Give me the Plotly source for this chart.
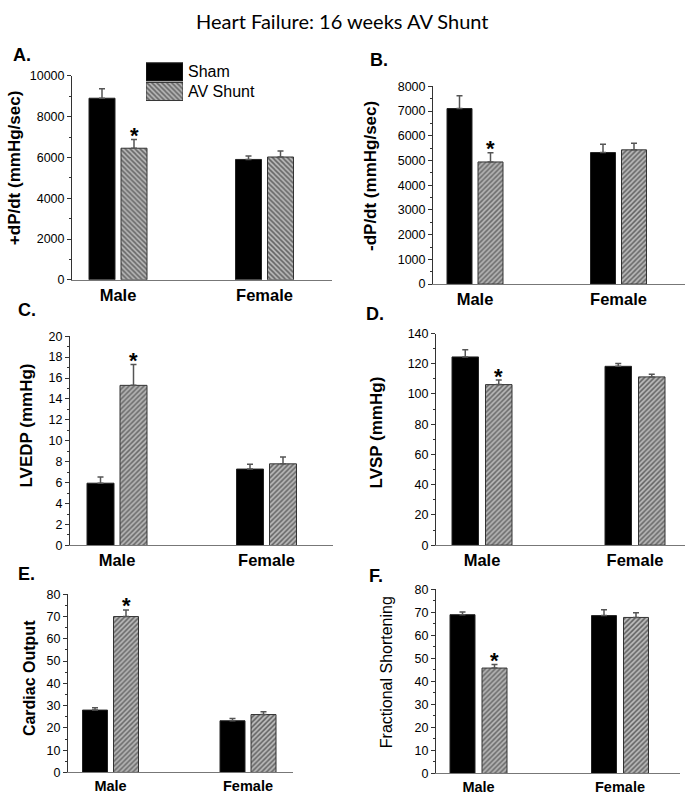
import plotly.graph_objects as go

W, H = 685, 804

categories = ["Male", "Female"]
groups = ["Sham", "AV Shunt"]

# A. +dP/dt
plus_dpdt_sham = [8900, 5900]
plus_dpdt_sham_err = [460, 170]
plus_dpdt_shunt = [6450, 6020]
plus_dpdt_shunt_err = [430, 290]
# B. -dP/dt
minus_dpdt_sham = [7100, 5320]
minus_dpdt_sham_err = [520, 340]
minus_dpdt_shunt = [4940, 5430]
minus_dpdt_shunt_err = [370, 270]
# C. LVEDP
lvedp_sham = [5.95, 7.3]
lvedp_sham_err = [0.6, 0.45]
lvedp_shunt = [15.3, 7.8]
lvedp_shunt_err = [2.0, 0.65]
# D. LVSP
lvsp_sham = [124.5, 118.3]
lvsp_sham_err = [4.7, 1.8]
lvsp_shunt = [106.2, 111.3]
lvsp_shunt_err = [3.0, 1.7]
# E. cardiac output
co_sham = [28.0, 23.2]
co_sham_err = [1.0, 1.0]
co_shunt = [70.0, 26.0]
co_shunt_err = [3.0, 1.2]
# F. fractional shortening
fs_sham = [69.0, 68.6]
fs_sham_err = [1.2, 2.5]
fs_shunt = [45.8, 67.8]
fs_shunt_err = [1.6, 2.0]

# significant vs sham (per category)
signif = [True, False]

panels = [
    dict(letter="A.", ytitle="+dP/dt (mmHg/sec)", sham=plus_dpdt_sham, sham_err=plus_dpdt_sham_err,
         shunt=plus_dpdt_shunt, shunt_err=plus_dpdt_shunt_err, ymax=10000, dtick=2000, minor=1000,
         hatch="\\", cat_size=16.5, bold=True, box=(72, 332, 70, 277.7), m=118, f=264.5, bw=26, gap=6,
         lpos=(11, 49), tpos=(14, 164), tsize=17),
    dict(letter="B.", ytitle="-dP/dt (mmHg/sec)", sham=minus_dpdt_sham, sham_err=minus_dpdt_sham_err,
         shunt=minus_dpdt_shunt, shunt_err=minus_dpdt_shunt_err, ymax=8000, dtick=1000, minor=500,
         hatch="/", cat_size=16.5, bold=True, box=(433, 685, 80.7, 282), m=475, f=618.5, bw=25, gap=6,
         lpos=(368, 54), tpos=(370, 172), tsize=17),
    dict(letter="C.", ytitle="LVEDP (mmHg)", sham=lvedp_sham, sham_err=lvedp_sham_err,
         shunt=lvedp_shunt, shunt_err=lvedp_shunt_err, ymax=20, dtick=2, minor=1,
         hatch="/", cat_size=16.5, bold=True, box=(70, 333, 335, 548), m=117, f=266.5, bw=27, gap=6,
         lpos=(16, 308), tpos=(27, 426), tsize=17),
    dict(letter="D.", ytitle="LVSP (mmHg)", sham=lvsp_sham, sham_err=lvsp_sham_err,
         shunt=lvsp_shunt, shunt_err=lvsp_shunt_err, ymax=140, dtick=20, minor=10,
         hatch="/", cat_size=16.5, bold=True, box=(436, 685, 332.3, 547.7), m=482, f=635, bw=26.5, gap=7,
         lpos=(364, 312), tpos=(376, 433), tsize=17),
    dict(letter="E.", ytitle="Cardiac Output", sham=co_sham, sham_err=co_sham_err,
         shunt=co_shunt, shunt_err=co_shunt_err, ymax=80, dtick=10, minor=5,
         hatch="/", cat_size=14.5, bold=True, box=(68, 293, 597.7, 779), m=110.5, f=248, bw=25, gap=6,
         lpos=(16, 577), tpos=(29, 683), tsize=16),
    dict(letter="F.", ytitle="Fractional Shortening", sham=fs_sham, sham_err=fs_sham_err,
         shunt=fs_shunt, shunt_err=fs_shunt_err, ymax=80, dtick=10, minor=5,
         hatch="/", cat_size=14.5, bold=False, box=(436, 680, 592.7, 780), m=478.5, f=620, bw=25, gap=7,
         lpos=(367, 579), tpos=(386, 677), tsize=16),
]

FONT = "Liberation Sans, Arial, sans-serif"
HATCH = dict(fgcolor="#111", bgcolor="#b8b8b8", size=3.5, solidity=0.45)

fig = go.Figure()
annotations = []
layout = {}
x_pos = [0, 1]

for i, p in enumerate(panels, start=1):
    l, r, t, b = p["box"]
    unit = p["f"] - p["m"]
    xr = [(l - p["m"]) / unit, (r - p["m"]) / unit]
    w = p["bw"] / unit
    g = p["gap"] / unit
    xa = "x" if i == 1 else f"x{i}"
    ya = "y" if i == 1 else f"y{i}"
    fig.add_trace(go.Bar(
        x=x_pos, y=p["sham"], xaxis=xa, yaxis=ya, width=w, offset=-(w + g / 2),
        marker=dict(color="black", line=dict(color="#222", width=1)),
        error_y=dict(type="data", array=p["sham_err"], arrayminus=[0, 0], symmetric=False,
                     color="#555", thickness=1.5, width=3),
        name=groups[0], showlegend=False,
    ))
    fig.add_trace(go.Bar(
        x=x_pos, y=p["shunt"], xaxis=xa, yaxis=ya, width=w, offset=g / 2,
        marker=dict(color="white", line=dict(color="#333", width=1),
                    pattern=dict(shape=p["hatch"], **HATCH)),
        error_y=dict(type="data", array=p["shunt_err"], arrayminus=[0, 0], symmetric=False,
                     color="#555", thickness=1.5, width=3),
        name=groups[1], showlegend=False,
    ))
    key = "" if i == 1 else str(i)
    layout[f"xaxis{key}"] = dict(
        domain=[l / W, r / W], anchor=ya, range=xr, tickvals=x_pos,
        ticktext=[f"<b>{c}</b>" for c in categories], ticks="", showline=True,
        linecolor="#777", linewidth=1, showgrid=False, zeroline=False,
        tickfont=dict(family=FONT, size=p["cat_size"], color="black"), fixedrange=True,
    )
    layout[f"yaxis{key}"] = dict(
        domain=[1 - b / H, 1 - t / H], anchor=xa, range=[0, p["ymax"]], dtick=p["dtick"],
        tick0=0, tickformat="d", ticks="outside", ticklen=4, tickcolor="#333", showline=True,
        linecolor="#333", linewidth=1, showgrid=False, zeroline=False,
        minor=dict(dtick=p["minor"], ticks="outside", ticklen=2, tickcolor="#333"),
        tickfont=dict(family=FONT, size=12.5, color="black"), fixedrange=True,
    )
    # asterisks
    for j, s in enumerate(signif):
        if s:
            annotations.append(dict(
                x=x_pos[j] + g / 2 + w / 2, y=p["shunt"][j] + p["shunt_err"][j], xref=xa, yref=ya,
                text="<b>*</b>", showarrow=False, yanchor="middle", yshift=4,
                font=dict(family=FONT, size=22, color="black"),
            ))
    # panel letter
    annotations.append(dict(
        x=p["lpos"][0] / W, y=1 - p["lpos"][1] / H, xref="paper", yref="paper",
        text=f"<b>{p['letter']}</b>", showarrow=False, xanchor="left", yanchor="middle",
        font=dict(family=FONT, size=18, color="black"),
    ))
    # y title
    ttxt = f"<b>{p['ytitle']}</b>" if p["bold"] else p["ytitle"]
    annotations.append(dict(
        x=p["tpos"][0] / W, y=1 - p["tpos"][1] / H, xref="paper", yref="paper",
        text=ttxt, textangle=-90, showarrow=False, xanchor="center", yanchor="middle",
        font=dict(family=FONT, size=p["tsize"], color="black"),
    ))

# legend swatches drawn as a tiny horizontal bar chart
fig.add_trace(go.Bar(
    y=[groups[0]], x=[1], orientation="h", xaxis="x7", yaxis="y7", width=0.92,
    marker=dict(color="black", line=dict(color="#222", width=1)), showlegend=False,
))
fig.add_trace(go.Bar(
    y=[groups[1]], x=[1], orientation="h", xaxis="x7", yaxis="y7", width=0.92,
    marker=dict(color="white", line=dict(color="#333", width=1),
                pattern=dict(shape="\\", **HATCH)),
    showlegend=False,
))
layout["xaxis7"] = dict(domain=[146 / W, 183 / W], anchor="y7", range=[0, 1], visible=False,
                        fixedrange=True)
layout["yaxis7"] = dict(domain=[1 - 96 / H, 1 - 56 / H], anchor="x7", side="right",
                        categoryorder="array", categoryarray=[groups[1], groups[0]],
                        showline=False, ticks="", showgrid=False, zeroline=False,
                        ticklabelstandoff=4, fixedrange=True,
                        tickfont=dict(family=FONT, size=16, color="black"))

annotations.append(dict(
    x=0.5, y=1 - 14 / H, xref="paper", yref="paper", text="Heart Failure: 16 weeks AV Shunt",
    showarrow=False, xanchor="center", yanchor="middle",
    font=dict(family="Lato, Carlito, sans-serif", size=20, color="black"),
))

fig.update_layout(
    width=W, height=H, margin=dict(l=0, r=0, t=0, b=0), autosize=False,
    paper_bgcolor="white", plot_bgcolor="white", barmode="overlay",
    showlegend=False, annotations=annotations, **layout,
)

fig.write_html("out.html", config={"displayModeBar": False},
               post_script="document.body.style.margin = '0';")
